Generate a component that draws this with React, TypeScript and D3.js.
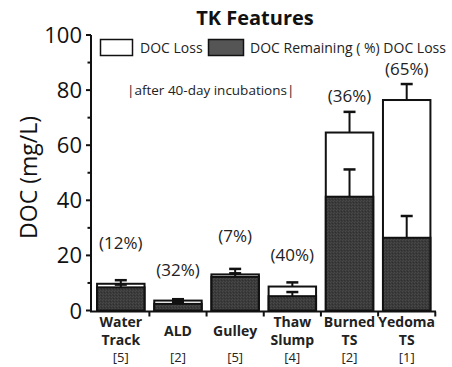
import React from "react";
import * as d3 from "d3";

const categories = ["Water|Track", "ALD", "Gulley", "Thaw|Slump", "Burned|TS", "Yedoma|TS"];
const sampleCounts = ["[5]", "[2]", "[5]", "[4]", "[2]", "[1]"];
const initialDoc = [9.7, 3.6, 13.1, 8.7, 64.6, 76.4];
const initialErr = [1.3, 0.5, 2.0, 1.5, 7.5, 5.8];
const remainingDoc = [8.4, 2.4, 12.2, 5.2, 41.3, 26.4];
const remainingErr = [1.0, 0.6, 1.3, 1.5, 9.9, 7.9];
const lossPct = [12, 32, 7, 40, 36, 65];
const lossLabelAt = [22.2, 12.7, 25, 17.9, 75.5, 85.5];
const yTicks = [0, 20, 40, 60, 80, 100];
const yMinorTicks = [10, 30, 50, 70, 90];

const W = 452;
const H = 367;
const FONT = "'Open Sans', 'Noto Sans', sans-serif";

export default function App() {
  const x = d3
    .scaleBand<string>()
    .domain(categories)
    .range([92.5, 435])
    .paddingInner(0.17)
    .paddingOuter(0.08);
  const y = d3.scaleLinear().domain([0, 100]).range([310.5, 35]);
  const bw = x.bandwidth();
  const capW = 12;
  const step = x.step();
  const bandEdges = categories.map((c) => (x(c) as number) - step * x.paddingInner() / 2 + step);

  return (
    <svg
      width={W}
      height={H}
      style={{ position: "absolute", left: 0, top: 0, background: "#fff" }}
      fontFamily={FONT}
    >
      <defs>
        <pattern id="grain" width="3" height="3" patternUnits="userSpaceOnUse">
          <rect width="3" height="3" fill="#3b3b3b" />
          <rect x="0" y="0" width="1" height="1" fill="#4a4a4a" />
          <rect x="2" y="1" width="1" height="1" fill="#2f2f2f" />
          <rect x="1" y="2" width="1" height="1" fill="#474747" />
        </pattern>
      </defs>

      {/* title */}
      <text x={255} y={25} textAnchor="middle" fontSize={20} fontWeight="bold" fill="#111">
        TK Features
      </text>

      {/* legend */}
      <rect x={100.5} y={39.5} width={32} height={16} fill="#fff" stroke="#111" strokeWidth={1.5} />
      <text x={140} y={53} fontSize={14} fill="#222">DOC Loss</text>
      <rect x={208.5} y={39.5} width={35} height={16} fill="#555" stroke="#111" strokeWidth={1.5} />
      <text x={250} y={53} fontSize={14} fill="#222">DOC Remaining ( %) DOC Loss</text>

      <text x={127} y={95} fontSize={13.5} fill="#222">|after 40-day incubations|</text>

      {/* bars */}
      {categories.map((c, i) => {
        const bx = x(c) as number;
        const cx = bx + bw / 2;
        const topI = y(initialDoc[i]);
        const topR = y(remainingDoc[i]);
        const errI = y(initialDoc[i] + initialErr[i]);
        const errR = y(remainingDoc[i] + remainingErr[i]);
        return (
          <g key={c}>
            <rect x={bx} y={topI} width={bw} height={y(0) - topI} fill="#fff" stroke="#111" strokeWidth={2} />
            <line x1={cx} x2={cx} y1={topI} y2={errI} stroke="#111" strokeWidth={2} />
            <line x1={cx - capW / 2} x2={cx + capW / 2} y1={errI} y2={errI} stroke="#111" strokeWidth={2.5} />
            <rect x={bx} y={topR} width={bw} height={y(0) - topR} fill="url(#grain)" stroke="#111" strokeWidth={2} />
            <line x1={cx} x2={cx} y1={topR} y2={errR} stroke="#111" strokeWidth={2} />
            <line x1={cx - capW / 2} x2={cx + capW / 2} y1={errR} y2={errR} stroke="#111" strokeWidth={2.5} />
            <text x={cx} y={y(lossLabelAt[i])} textAnchor="middle" fontSize={17} fill="#222">
              ({lossPct[i]}%)
            </text>
          </g>
        );
      })}

      {/* y axis */}
      <line x1={91} x2={91} y1={y(100)} y2={y(0) + 1} stroke="#111" strokeWidth={2} />
      {yTicks.map((t) => (
        <g key={t}>
          <line x1={86} x2={91} y1={y(t)} y2={y(t)} stroke="#111" strokeWidth={2} />
          <text x={82} y={y(t) + 8} textAnchor="end" fontSize={22} fill="#111">
            {t}
          </text>
        </g>
      ))}
      {yMinorTicks.map((t) => (
        <line key={t} x1={87.5} x2={91} y1={y(t)} y2={y(t)} stroke="#111" strokeWidth={2} />
      ))}
      <text
        transform={`translate(37, 177.5) rotate(-90)`}
        textAnchor="middle"
        fontSize={23}
        fill="#111"
      >
        DOC (mg/L)
      </text>

      {/* x axis */}
      <line x1={90} x2={436} y1={y(0) + 1} y2={y(0) + 1} stroke="#111" strokeWidth={2} />
      {bandEdges.map((ex, i) => (
        <line key={i} x1={ex} x2={ex} y1={y(0) + 1} y2={y(0) + 6} stroke="#111" strokeWidth={2} />
      ))}
      {categories.map((c) => {
        const cx = (x(c) as number) + bw / 2;
        const lines = c.split("|");
        return (
          <g key={c}>
            {lines.length === 2 ? (
              <>
                <text x={cx} y={327} textAnchor="middle" fontSize={14} fontWeight="bold" fill="#222">
                  {lines[0]}
                </text>
                <text x={cx} y={345} textAnchor="middle" fontSize={14} fontWeight="bold" fill="#222">
                  {lines[1]}
                </text>
              </>
            ) : (
              <text x={cx} y={336} textAnchor="middle" fontSize={14} fontWeight="bold" fill="#222">
                {lines[0]}
              </text>
            )}
          </g>
        );
      })}
      {categories.map((c, i) => (
        <text
          key={c}
          x={(x(c) as number) + bw / 2}
          y={362}
          textAnchor="middle"
          fontSize={13}
          fill="#222"
        >
          {sampleCounts[i]}
        </text>
      ))}
    </svg>
  );
}
